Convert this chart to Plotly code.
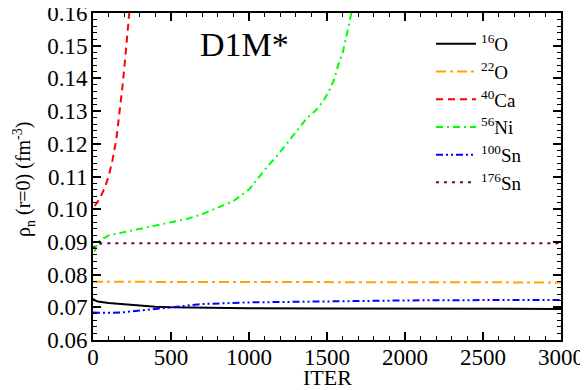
import plotly.graph_objects as go

# ---- data ----
iter_o16 = [0, 10, 30, 60, 100, 200, 300, 400, 500, 700, 1000, 1500, 2000, 2500, 3000]
rho_o16 = [0.0726, 0.0722, 0.0718, 0.0715, 0.0713, 0.0709, 0.0705, 0.0702, 0.0700, 0.0698, 0.0697, 0.0696, 0.0695, 0.0695, 0.0695]

iter_o22 = [0, 100, 500, 1000, 1500, 2000, 2500, 3000]
rho_o22 = [0.0778, 0.0778, 0.0777, 0.0776, 0.0776, 0.0776, 0.0776, 0.0776]

iter_ca40 = [10, 30, 50, 75, 100, 125, 150, 170, 190, 210, 230, 240]
rho_ca40 = [0.1010, 0.1022, 0.1040, 0.1065, 0.1100, 0.1150, 0.1215, 0.1290, 0.1380, 0.1480, 0.1590, 0.1640]

iter_ni56 = [10, 30, 100, 200, 300, 400, 500, 600, 700, 800, 900, 1000, 1100, 1200, 1300,
             1370, 1430, 1480, 1510, 1545, 1575, 1600, 1630, 1650, 1665]
rho_ni56 = [0.0870, 0.0900, 0.0920, 0.0930, 0.0940, 0.0950, 0.0960, 0.0970, 0.0985, 0.1005,
            0.1025, 0.1060, 0.1120, 0.1175, 0.1235, 0.1278, 0.1303, 0.1334, 0.1359, 0.1395,
            0.1446, 0.1477, 0.1541, 0.1587, 0.1620]

iter_sn100 = [0, 100, 200, 300, 400, 500, 700, 1000, 1300, 1500, 2000, 2500, 3000]
rho_sn100 = [0.0684, 0.0683, 0.0685, 0.0690, 0.0696, 0.0702, 0.0710, 0.0715, 0.0717, 0.0719, 0.0721, 0.0722, 0.0722]

iter_sn176 = [0, 20, 50, 100, 500, 1000, 1500, 2000, 2500, 3000]
rho_sn176 = [0.0880, 0.0890, 0.0895, 0.0896, 0.0896, 0.0896, 0.0896, 0.0896, 0.0896, 0.0896]

names = ["<sup>16</sup>O", "<sup>22</sup>O", "<sup>40</sup>Ca", "<sup>56</sup>Ni", "<sup>100</sup>Sn", "<sup>176</sup>Sn"]
xs = [iter_o16, iter_o22, iter_ca40, iter_ni56, iter_sn100, iter_sn176]
ys = [rho_o16, rho_o22, rho_ca40, rho_ni56, rho_sn100, rho_sn176]
colors = ["#000000", "#FFA500", "#FF0000", "#00FF00", "#0000FF", "#670748"]
dashes = ["solid", "10px,4px,3px,4px", "7px,5px", "7px,4px,2px,4px", "7px,3px,2px,3px,2px,3px", "3px,5px"]

fig = go.Figure()
for x, y, n, c, d in zip(xs, ys, names, colors, dashes):
    fig.add_trace(go.Scatter(x=x, y=y, name=n, mode="lines",
                             line=dict(color=c, width=2, dash=d)))

font = "Liberation Serif"
PW, PH = 468, 327  # plot area size in px (screen: x 93..561, y 13..340)
fig.update_layout(
    width=580, height=382,
    margin=dict(l=85, r=27, t=5, b=50, autoexpand=False),
    paper_bgcolor="white", plot_bgcolor="white",
    font=dict(family=font, size=23, color="black"),
    showlegend=True,
    legend=dict(x=(431 - 93) / PW, y=1 - (25 - 13) / PH, xanchor="left", yanchor="top",
                bgcolor="rgba(0,0,0,0)", font=dict(family=font, size=19), tracegroupgap=0,
                itemwidth=40),
    annotations=[
        dict(text="D1M*", x=(244 - 93) / PW, y=1 - (24 - 13) / PH, xref="paper", yref="paper",
             xanchor="center", yanchor="top", showarrow=False, font=dict(family=font, size=34)),
        dict(text="ρ<sub>n</sub> (r=0) (fm<sup>-3</sup>)", x=(24 - 93) / PW, y=1 - (180 - 13) / PH,
             xref="paper", yref="paper",
             textangle=-90, showarrow=False, font=dict(family=font, size=20), xanchor="center", yanchor="middle"),
        dict(text="ITER", x=0.5, y=0, xref="paper", yref="paper", yshift=-23,
             showarrow=False, font=dict(family=font, size=22), xanchor="center", yanchor="top"),
    ],
)

axis_common = dict(showline=True, linecolor="black", linewidth=2, mirror="allticks",
                   ticks="inside", ticklen=8, tickwidth=1.5, tickcolor="black",
                   showgrid=False, zeroline=False, automargin=False, ticklabeloverflow="allow",
                   tickfont=dict(family=font, size=23, color="black"))
fig.update_xaxes(range=[0, 3000], tickvals=[0, 500, 1000, 1500, 2000, 2500, 3000],
                 minor=dict(ticks="inside", ticklen=4, dtick=100, tickcolor="black", tickwidth=1.2),
                 ticklabelstandoff=-5, **axis_common)
fig.update_yaxes(range=[0.06, 0.16], dtick=0.01, tickformat=".2f",
                 minor=dict(ticks="inside", ticklen=4, dtick=0.002, tickcolor="black", tickwidth=1.2),
                 ticklabelstandoff=-1, **axis_common)

fig.write_html("out.html")
